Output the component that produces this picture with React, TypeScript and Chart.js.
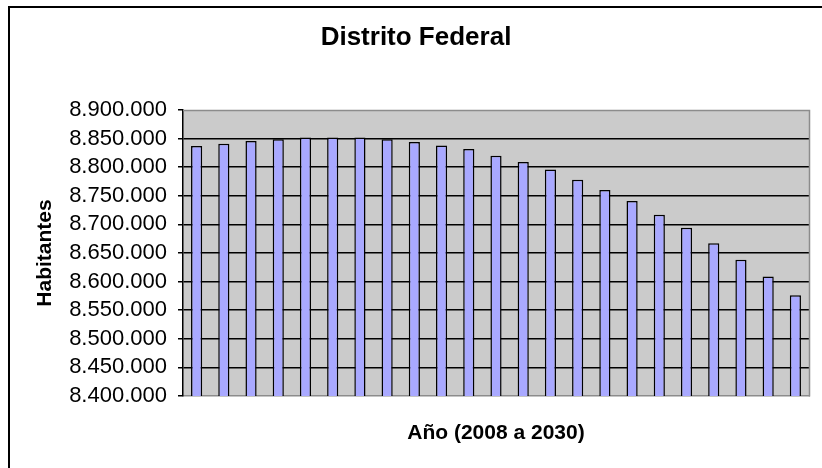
import React, { useEffect, useRef } from 'react';
import { Chart, registerables } from 'chart.js';

Chart.register(...registerables);

const years = [
  '2008', '2009', '2010', '2011', '2012', '2013', '2014', '2015', '2016', '2017', '2018', '2019',
  '2020', '2021', '2022', '2023', '2024', '2025', '2026', '2027', '2028', '2029', '2030',
];
const habitantes = [
  8837000, 8841000, 8846000, 8849000, 8852000, 8852000, 8852000, 8849000, 8844000, 8838000, 8832000, 8820000,
  8809000, 8796000, 8778000, 8760000, 8741000, 8717000, 8694000, 8667000, 8638000, 8609000, 8576000,
];
const yMin = 8400000;
const yMax = 8900000;
const yStep = 50000;

const chartTitle = 'Distrito Federal';
const xTitle = 'Año (2008 a 2030)';
const yTitle = 'Habitantes';

const FONT = '"Liberation Sans", Arial, sans-serif';

const fmt = (v: number) => String(Math.round(v)).replace(/\B(?=(\d{3})+(?!\d))/g, '.');

const plotPlugin = {
  id: 'plotBg',
  beforeDraw(chart: any) {
    const { ctx, chartArea } = chart;
    ctx.save();
    ctx.fillStyle = '#CBCBCB';
    ctx.fillRect(chartArea.left, chartArea.top, chartArea.right - chartArea.left, chartArea.bottom - chartArea.top);
    ctx.restore();
  },
  afterDraw(chart: any) {
    const { ctx, chartArea } = chart;
    ctx.save();
    ctx.strokeStyle = '#8c8c8c';
    ctx.lineWidth = 1.5;
    ctx.beginPath();
    ctx.moveTo(Math.round(chartArea.left), Math.round(chartArea.top) + 0.5);
    ctx.lineTo(Math.round(chartArea.right) + 0.5, Math.round(chartArea.top) + 0.5);
    ctx.lineTo(Math.round(chartArea.right) + 0.5, Math.round(chartArea.bottom) + 0.5);
    ctx.stroke();
    ctx.restore();
  },
};

export default function App() {
  const ref = useRef<HTMLCanvasElement | null>(null);

  useEffect(() => {
    if (!ref.current) return;
    const chart = new Chart(ref.current, {
      type: 'bar',
      data: {
        labels: years,
        datasets: [
          {
            data: habitantes,
            backgroundColor: '#A9A9FF',
            borderColor: '#000000',
            borderWidth: 1.5,
            barPercentage: 0.41,
            categoryPercentage: 1,
          },
        ],
      },
      plugins: [plotPlugin],
      options: {
        animation: false,
        responsive: false,
        maintainAspectRatio: false,
        layout: { padding: { left: 0, right: 0, top: 0, bottom: 0 } },
        plugins: {
          legend: { display: false },
          tooltip: { enabled: false },
          title: {
            display: true,
            text: chartTitle,
            color: '#000',
            font: { family: FONT, size: 26, weight: 'bold', lineHeight: 1.2 },
            padding: { top: 14, bottom: 56.8 },
          },
        },
        scales: {
          x: {
            offset: true,
            grid: { display: false, drawTicks: false },
            border: { display: true, color: '#8c8c8c', width: 1.5 },
            ticks: { display: false },
            title: {
              display: true,
              text: xTitle,
              color: '#000',
              font: { family: FONT, size: 21, weight: 'bold', lineHeight: 1.2 },
              padding: { top: 22, bottom: 22 },
            },
            afterFit: (scale: any) => {
              scale.height = 72;
            },
          },
          y: {
            min: yMin,
            max: yMax,
            grid: {
              color: (c: any) => (c.tick && (c.tick.value === yMax || c.tick.value === yMin) ? 'rgba(0,0,0,0)' : '#000'),
              tickColor: '#000',
              lineWidth: 1.5,
              tickLength: 5,
              drawTicks: true,
            },
            border: { display: true, color: '#000', width: 1.5 },
            ticks: {
              stepSize: yStep,
              autoSkip: false,
              color: '#000',
              padding: 11,
              font: { family: FONT, size: 22 },
              callback: (v: any) => fmt(Number(v)),
            },
            title: {
              display: true,
              text: yTitle,
              color: '#000',
              font: { family: FONT, size: 21, weight: 'bold', lineHeight: 1.2 },
              padding: { top: 23, bottom: 23 },
            },
            afterFit: (scale: any) => {
              scale.width = 173;
            },
          },
          yRightSpace: {
            position: 'right',
            display: true,
            grid: { display: false, drawTicks: false },
            border: { display: false },
            ticks: { display: false },
            afterFit: (scale: any) => {
              scale.width = 13;
            },
          },
        },
      },
    } as any);
    return () => chart.destroy();
  }, []);

  return (
    <div
      style={{
        position: 'fixed',
        left: 8,
        top: 6,
        width: 814,
        height: 462,
        borderLeft: '2px solid #000',
        borderTop: '2px solid #000',
        boxSizing: 'border-box',
        background: '#fff',
      }}
    >
      <canvas ref={ref} width={812} height={460} style={{ display: 'block', width: 812, height: 460 }} />
    </div>
  );
}
